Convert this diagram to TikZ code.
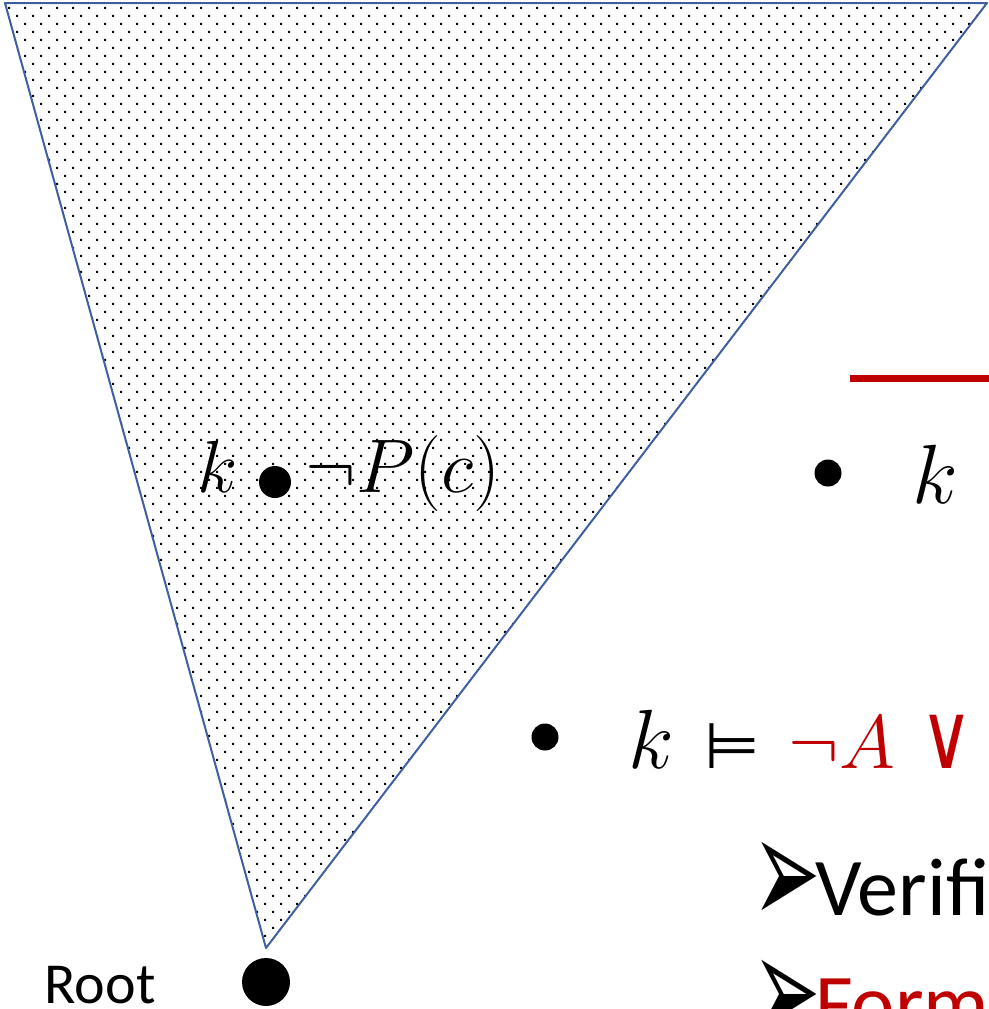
\RequirePackage{fix-cm}
\documentclass[tikz,border=0pt]{standalone}
\usepackage{fontspec}
\setsansfont{Carlito}
\newfontfamily\dingfont{DejaVu Sans}
\usepackage{tikz}
\usetikzlibrary{patterns,positioning}
\definecolor{triblue}{HTML}{3F5F9F}
\definecolor{darkred}{HTML}{C00000}
\pgfdeclarepatternformonly{sparsedots}{\pgfpoint{-1pt}{-1pt}}{\pgfpoint{9pt}{9pt}}{\pgfpoint{8pt}{8pt}}{%
  \pgfpathrectangle{\pgfpoint{0pt}{0pt}}{\pgfpoint{1pt}{1pt}}%
  \pgfpathrectangle{\pgfpoint{4pt}{4pt}}{\pgfpoint{1pt}{1pt}}%
  \pgfusepath{fill}}

\begin{document}
\begin{tikzpicture}[x=0.5pt, y=-0.5pt,
  bigdot/.style={circle, fill=black, inner sep=0pt, minimum size=#1},
  mathlbl/.style={inner sep=0pt, font=\fontsize{#1}{#1}\selectfont},
  symlbl/.style={inner sep=0pt, font=\dingfont\fontsize{#1}{#1}\selectfont},
  sanslbl/.style={inner sep=0pt, font=\sffamily\fontsize{#1}{#1}\selectfont},
  pointer/.style={inner sep=0pt, font=\dingfont\fontsize{34}{34}\selectfont}]
  \useasboundingbox (0,0) rectangle (989,1009);
  \clip (0,0) rectangle (989,1009);

  % the tree
  \coordinate (tl) at (5,3);
  \coordinate (tr) at (987,3);
  \coordinate (tip) at (266,948);
  \fill[pattern=sparsedots] (tl) -- (tr) -- (tip) -- cycle;
  \draw[triblue, line width=1pt, line join=round] (tl) -- (tr) -- (tip) -- cycle;

  % root
  \node[bigdot=24pt] (root) at (266,982) {};
  \node[sanslbl=29, anchor=base] (rootlbl) at (100,1003) {Root};

  % world k inside the tree
  \node[bigdot=16pt] (kdot) at (275,482) {};
  \node[mathlbl=37, anchor=base east] (klbl) at (238,492) {$k$};
  \node[mathlbl=38, anchor=base west] (negP) at (305,492) {$\neg P(c)$};

  % right hand text
  \coordinate (barL) at (850,378);
  \coordinate (barR) at (1000,378);
  \draw[darkred, line width=3.5pt] (barL) -- (barR);

  \node[bigdot=13.5pt] (item1) at (828,473) {};
  \node[mathlbl=42, anchor=base west] (k1) at (912,503) {$k$};

  \node[bigdot=13.5pt] (item2) at (545,737) {};
  \node[mathlbl=42, anchor=base west] (k2) at (628,768) {$k$};
  \node[symlbl=32, anchor=base west] (models) at (704,768) {⊨};
  \node[mathlbl=38, anchor=base west, text=darkred] (negA) at (788,768) {$\neg A$};
  \node[symlbl=40, anchor=base west, text=darkred] (vee) at (920,768) {\scalebox{0.9}[1.15]{∨}};

  \node[pointer, anchor=west] (ptr1) at (752,884) {\scalebox{1.2}[2.3]{➢}};
  \node[sanslbl=41, anchor=base west] (verif) at (815,915) {Verifi};
  \node[pointer, anchor=west] (ptr2) at (752,1002) {\scalebox{1.2}[2.3]{➢}};
  \node[sanslbl=41, anchor=base west, text=darkred] (form) at (815,1031) {Form};
\end{tikzpicture}
\end{document}
